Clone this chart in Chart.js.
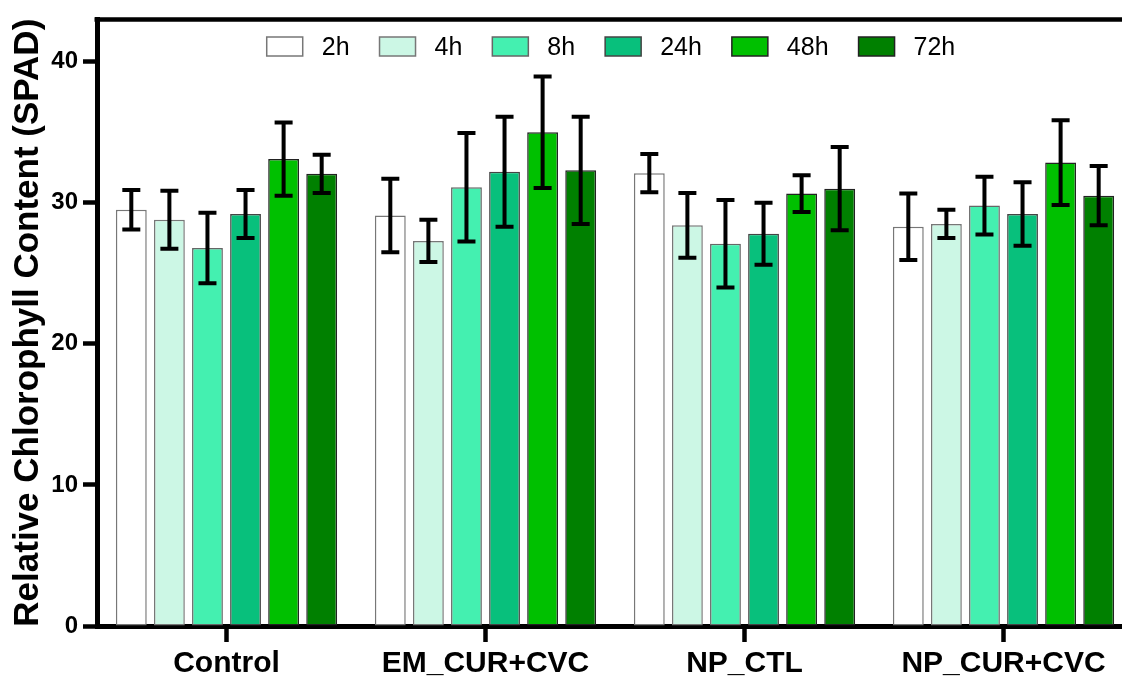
<!DOCTYPE html>
<html>
<head>
<meta charset="utf-8">
<script src="https://cdn.jsdelivr.net/npm/chart.js@4.4.1/dist/chart.umd.min.js"></script>
<style>
  html, body { margin: 0; padding: 0; background: #fff; overflow: hidden; }
  #wrap { width: 1136px; height: 677px; position: relative; }
</style>
</head>
<body>
<div id="wrap"><canvas id="chart"></canvas></div>
<script>
const categories = ['Control', 'EM_CUR+CVC', 'NP_CTL', 'NP_CUR+CVC'];
const timepoints = ['2h', '4h', '8h', '24h', '48h', '72h'];
const yTicks = [0, 10, 20, 30, 40];

// means, one array per time point (Control, EM_CUR+CVC, NP_CTL, NP_CUR+CVC)
const mean2h  = [29.5, 29.1, 32.1, 28.3];
const mean4h  = [28.8, 27.3, 28.4, 28.5];
const mean8h  = [26.8, 31.1, 27.1, 29.8];
const mean24h = [29.2, 32.2, 27.8, 29.2];
const mean48h = [33.1, 35.0, 30.65, 32.85];
const mean72h = [32.05, 32.3, 31.0, 30.5];

// error bar half-widths
const err2h  = [1.4, 2.6, 1.35, 2.35];
const err4h  = [2.05, 1.5, 2.3, 1.0];
const err8h  = [2.5, 3.85, 3.1, 2.05];
const err24h = [1.7, 3.9, 2.2, 2.25];
const err48h = [2.6, 3.95, 1.3, 3.0];
const err72h = [1.35, 3.8, 2.95, 2.1];

const means = [mean2h, mean4h, mean8h, mean24h, mean48h, mean72h];
const errors = [err2h, err4h, err8h, err24h, err48h, err72h];
const fills = ['#ffffff', '#ccf7e5', '#44f0b0', '#08c07c', '#00c000', '#008000'];
const edges = ['#777777', '#777777', '#666666', '#444444', '#222222', '#222222'];

const FONT = '"Liberation Sans", Arial, Helvetica, sans-serif';

const datasets = timepoints.map((t, i) => ({
  label: t,
  data: means[i],
  errors: errors[i],
  backgroundColor: fills[i],
  borderColor: edges[i],
  borderWidth: 1.5,
  borderSkipped: false,
  categoryPercentage: 0.882,
  barPercentage: 0.81
}));

// error bars, drawn through the y scale
const errorBars = {
  id: 'errorBars',
  afterDatasetsDraw(chart) {
    const ctx = chart.ctx;
    const y = chart.scales.y;
    ctx.save();
    ctx.strokeStyle = '#000';
    ctx.lineWidth = 4;
    chart.data.datasets.forEach((ds, i) => {
      const meta = chart.getDatasetMeta(i);
      meta.data.forEach((bar, j) => {
        const v = ds.data[j], e = ds.errors[j];
        const top = y.getPixelForValue(v + e);
        const bot = y.getPixelForValue(v - e);
        const cap = 9;
        ctx.beginPath();
        ctx.moveTo(bar.x, top); ctx.lineTo(bar.x, bot);
        ctx.moveTo(bar.x - cap, top); ctx.lineTo(bar.x + cap, top);
        ctx.moveTo(bar.x - cap, bot); ctx.lineTo(bar.x + cap, bot);
        ctx.stroke();
      });
    });
    ctx.restore();
  }
};

// top frame line + legend inside the plot
const frameAndLegend = {
  id: 'frameAndLegend',
  afterDraw(chart) {
    const ctx = chart.ctx;
    const a = chart.chartArea;
    ctx.save();
    ctx.strokeStyle = '#000';
    ctx.lineWidth = 4.5;
    ctx.beginPath();
    ctx.moveTo(a.left - 2.5, a.top);
    ctx.lineTo(a.right + 10, a.top);
    ctx.stroke();

    ctx.font = '25px ' + FONT;
    const boxW = 36, boxH = 19, gapIn = 19, gapOut = 30;
    const items = chart.data.datasets.map(ds => ({ ds, w: ctx.measureText(ds.label).width }));
    let total = 0;
    items.forEach((it, k) => { total += boxW + gapIn + it.w + (k < items.length - 1 ? gapOut : 0); });
    let x = (a.left + a.right) / 2 - total / 2 - 4;
    const cy = 46.5;
    ctx.textBaseline = 'middle';
    items.forEach(it => {
      ctx.fillStyle = it.ds.backgroundColor;
      ctx.fillRect(x, cy - boxH / 2, boxW, boxH);
      ctx.strokeStyle = it.ds.borderColor;
      ctx.lineWidth = 1.5;
      ctx.strokeRect(x, cy - boxH / 2, boxW, boxH);
      ctx.fillStyle = '#000';
      ctx.fillText(it.ds.label, x + boxW + gapIn, cy + 2);
      x += boxW + gapIn + it.w + gapOut;
    });
    ctx.restore();
  }
};

new Chart(document.getElementById('chart'), {
  type: 'bar',
  data: { labels: categories, datasets: datasets },
  options: {
    responsive: true,
    maintainAspectRatio: false,
    animation: false,
    layout: { padding: { top: 19, right: 3, bottom: 0, left: 0 } },
    plugins: {
      legend: { display: false },
      tooltip: { enabled: false }
    },
    scales: {
      x: {
        grid: { display: true, offset: false, drawOnChartArea: false, drawTicks: true, tickLength: 16, tickWidth: 4.5, tickColor: '#000' },
        border: { display: true, width: 5, color: '#000' },
        ticks: { color: '#000', padding: 4, font: { family: FONT, size: 30, weight: 'bold' } },
        afterFit(scale) { scale.height = 51; }
      },
      y: {
        min: 0,
        max: 43,
        afterBuildTicks(scale) { scale.ticks = yTicks.map(v => ({ value: v })); },
        grid: { display: true, drawOnChartArea: false, drawTicks: true, tickLength: 14, tickWidth: 4.5, tickColor: '#000' },
        border: { display: true, width: 5, color: '#000' },
        ticks: { color: '#000', padding: 5, font: { family: FONT, size: 24, weight: 'bold' } },
        title: {
          display: true,
          text: 'Relative Chlorophyll Content (SPAD)',
          color: '#000',
          padding: { top: 7, bottom: 0 },
          font: { family: FONT, size: 35, weight: 'bold' }
        },
        afterFit(scale) { scale.width = 97; }
      }
    }
  },
  plugins: [errorBars, frameAndLegend]
});
</script>
</body>
</html>
